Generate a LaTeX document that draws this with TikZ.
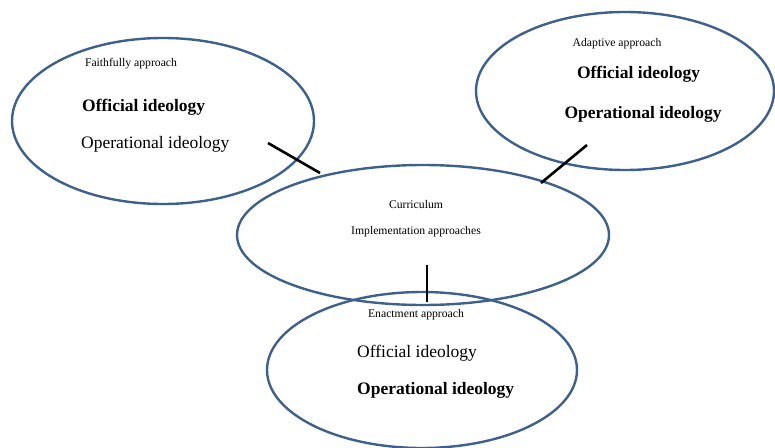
\documentclass[tikz,border=0pt]{standalone}
\usepackage{fontspec}
\setmainfont{Liberation Serif}
\definecolor{ringblue}{RGB}{62,96,140}
\begin{document}
\begin{tikzpicture}[x=1pt,y=-1pt,
  ring/.style={draw=ringblue,line width=2.4pt},
  link/.style={draw=black,line width=2.6pt},
  small/.style={inner sep=0pt,font=\fontsize{11.7}{14}\selectfont},
  big/.style={inner sep=0pt,font=\fontsize{17.5}{20}\selectfont},
  bigb/.style={inner sep=0pt,font=\fontsize{17.5}{20}\selectfont\bfseries}]
\useasboundingbox (0,0) rectangle (775,447);
% ellipses
\draw[ring] (163,121) ellipse [x radius=151, y radius=83];
\draw[ring] (625,91) ellipse [x radius=149, y radius=79];
\draw[ring] (423,235) ellipse [x radius=186, y radius=70];
\draw[ring] (422,370) ellipse [x radius=155, y radius=78];
% texts
\node[small] (fa) at (131,64) {Faithfully approach};
\node[bigb,anchor=west] (fo) at (82,107.5) {Official ideology};
\node[big,anchor=west] (fp) at (81,144.5) {Operational ideology};
\node[small] (aa) at (617,44) {Adaptive approach};
\node[bigb] (ao) at (638.5,74.5) {Official ideology};
\node[bigb] (ap) at (643,114.5) {Operational ideology};
\node[small] (cc) at (416,204) {Curriculum};
\node[small] (ci) at (416,232) {Implementation approaches};
\node[small] (ea) at (416,315) {Enactment approach};
\node[big,anchor=west] (eo) at (357,353.5) {Official ideology};
\node[bigb,anchor=west] (ep) at (357,390.5) {Operational ideology};
% connectors
\coordinate (l1a) at (268,143);
\coordinate (l1b) at (320,173);
\coordinate (l2a) at (587,145);
\coordinate (l2b) at (541,183);
\coordinate (l3a) at (427,265);
\coordinate (l3b) at (427,302);
\draw[link] (l1a) -- (l1b);
\draw[link] (l2a) -- (l2b);
\draw[link] (l3a) -- (l3b);
\end{tikzpicture}
\end{document}
